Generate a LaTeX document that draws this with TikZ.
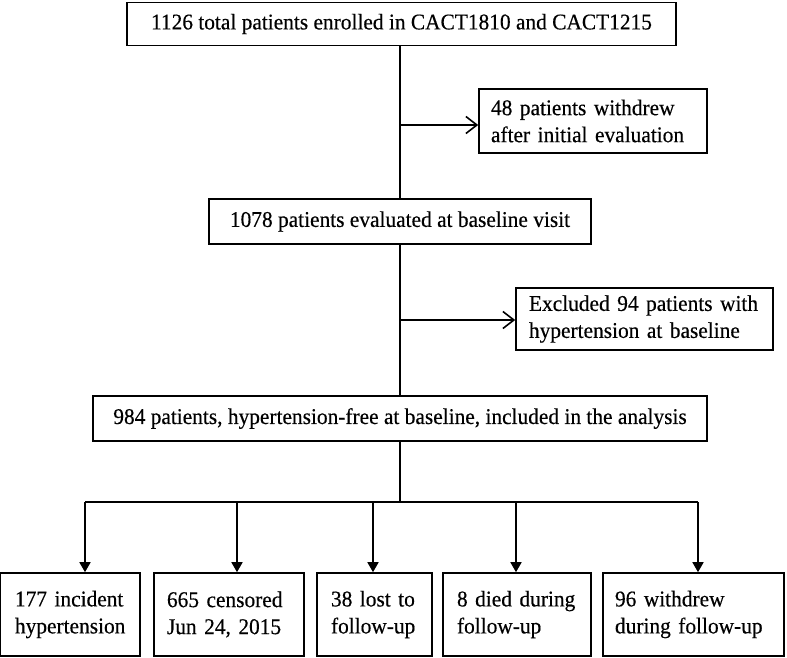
\documentclass[tikz,border=0pt]{standalone}
\usepackage{fontspec}
\setmainfont{Liberation Serif}[FakeStretch=0.95,FakeBold=0.4]
\usepackage{tikz}
\usetikzlibrary{arrows.meta}
\usetikzlibrary{calc}

\newcommand{\boxfont}{\fontsize{22.5}{27}\selectfont\hyphenpenalty=10000\relax\exhyphenpenalty=10000\relax}

\begin{document}
\begin{tikzpicture}[x=1pt,y=1pt,yscale=-1,
    box/.style={draw, line width=1.6pt, inner sep=0pt, font=\boxfont},
    sidebox/.style={box, align=left},
    flow/.style={line width=1.6pt},
    side/.style={flow, -{Straight Barb[length=11pt,width=17pt,line width=1.6pt]}},
    down/.style={flow, -{Triangle[length=10pt,width=11pt]}}]
                        \useasboundingbox (0,0) rectangle (787,658);

                        % Main boxes
                        \node [box, minimum width=549, minimum height=43] (enrolled) at (401.5,24) {1126 total patients enrolled in CACT1810 and CACT1215};
                        \node [box, minimum width=382, minimum height=45] (baseline) at (400,221.5) {1078 patients evaluated at baseline visit};
                        \node [box, minimum width=614, minimum height=45] (analysis) at (400,418.5) {984 patients, hypertension-free at baseline, included in the analysis};

                        % Side boxes
                        \node [sidebox, text width=204, inner xsep=12, minimum height=64] (withdrew) at (593,121) {48 patients withdrew\\after initial evaluation};
                        \node [sidebox, text width=231, inner xsep=13, minimum height=62] (excluded) at (644.5,319) {Excluded 94 patients with\\hypertension at baseline};

                        % Outcome boxes
                        \node [sidebox, text width=110, inner xsep=15, minimum height=83] (b1) at (70,614.5) {177 incident\\hypertension};
                        \node [sidebox, text width=124, inner xsep=13, minimum height=83] (b2) at (229,614.5) {665 censored\\Jun 24, 2015};
                        \node [sidebox, text width=87, inner xsep=14, minimum height=83] (b3) at (374.5,614.5) {38 lost to\\follow-up};
                        \node [sidebox, text width=120, inner xsep=14, minimum height=83] (b4) at (517,614.5) {8 died during\\follow-up};
                        \node [sidebox, text width=157, inner xsep=12, minimum height=83] (b5) at (693.5,614.5) {96 withdrew\\during follow-up};

                        % Trunk and branches
                        \draw [flow] (enrolled.south -| baseline.north) -- (baseline);
                        \draw [flow] (baseline) -- (analysis);
                        \coordinate (j1) at (400,125);
                        \coordinate (j2) at (400,320);
                        \draw [side] (j1) -- (j1 -| withdrew.west);
                        \draw [side] (j2) -- (j2 -| excluded.west);

                        % Split to outcomes
                        \coordinate (hub) at (400,502);
                        \draw [flow] (analysis) -- (hub);
                        \draw [flow] (85,502) coordinate (t1) -- (698,502) coordinate (t5);
                        \foreach \k/\ax in {2/237,3/373,4/516} \coordinate (t\k) at (\ax,502);
                        \foreach \k in {1,...,5} \draw [down] (t\k) -- (t\k |- b\k.north);
                    \end{tikzpicture}
\end{document}
